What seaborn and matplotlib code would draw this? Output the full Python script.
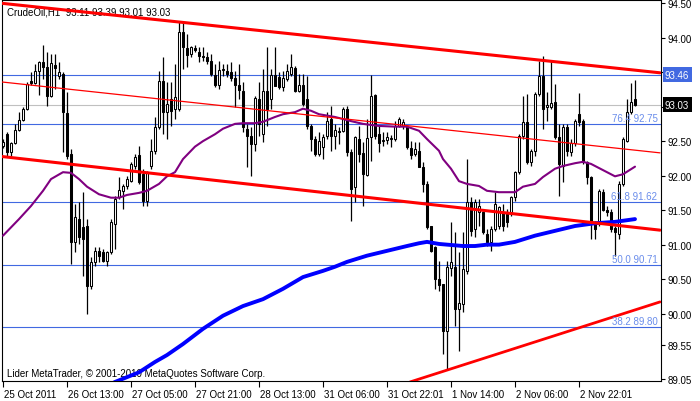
import matplotlib
matplotlib.use("Agg")
import matplotlib.pyplot as plt
import matplotlib.transforms as mtransforms
import numpy as np
import pandas as pd
import seaborn as sns

# CrudeOil H1 candles
opens = [92.43, 92.60, 92.34, 92.47, 92.66, 92.81, 92.97, 93.37, 93.34, 93.52,
         93.65, 93.57, 93.15, 93.60, 93.44, 93.47, 92.91, 92.31, 91.04, 91.37,
         91.26, 91.27, 90.40, 90.75, 90.91, 90.89, 90.76, 90.89, 91.30, 91.69,
         91.78, 91.85, 91.92, 92.14, 92.30, 92.02, 91.63, 92.14, 92.36, 92.70,
         93.37, 92.92, 93.11, 92.97, 92.97, 94.08, 93.85, 93.76, 93.85, 93.79,
         93.73, 93.72, 93.66, 93.46, 93.31, 93.53, 93.52, 93.50, 93.42, 93.31,
         93.23, 92.68, 92.57, 92.46, 93.11, 92.60, 93.23, 93.11, 93.46, 93.43,
         93.28, 93.40, 93.47, 93.56, 93.23, 93.31, 93.11, 92.72, 92.53, 92.31,
         92.42, 92.57, 92.82, 92.57, 92.65, 92.65, 92.97, 92.34, 91.84, 92.53,
         92.33, 92.01, 92.56, 93.17, 92.60, 92.50, 92.52, 92.53, 92.53, 92.72,
         92.72, 92.70, 92.40, 92.31, 92.36, 92.12, 91.88, 91.27, 90.97, 90.50,
         90.43, 89.75, 90.66, 90.68, 90.07, 90.14, 90.62, 91.62, 91.23, 91.47,
         91.47, 91.15, 91.04, 91.23, 91.27, 91.47, 91.46, 91.47, 91.69, 92.05,
         92.57, 92.78, 92.20, 92.36, 93.18, 93.44, 92.99, 92.99, 93.07, 92.56,
         92.14, 92.70, 92.34, 92.47, 92.89, 92.79, 92.20, 91.98, 91.33, 91.33,
         91.76, 91.50, 91.47, 91.24, 91.15, 91.88, 92.50, 92.92, 93.11]
highs = [92.53, 92.63, 92.49, 92.75, 92.92, 92.99, 93.36, 93.50, 93.62, 93.66,
         93.89, 93.79, 93.76, 93.76, 93.65, 93.50, 93.21, 92.39, 91.59, 91.62,
         91.76, 91.37, 90.82, 90.97, 90.97, 90.94, 90.91, 91.37, 91.70, 91.98,
         91.88, 91.99, 92.20, 92.31, 92.43, 92.10, 92.07, 92.53, 92.85, 93.52,
         93.72, 93.36, 93.36, 93.62, 94.23, 94.23, 94.05, 93.88, 93.89, 93.86,
         93.86, 93.79, 93.76, 93.62, 93.66, 93.62, 93.62, 93.65, 93.52, 93.62,
         93.36, 92.75, 92.70, 93.15, 93.36, 93.55, 93.86, 93.55, 93.86, 93.50,
         93.52, 93.62, 93.76, 93.59, 93.47, 93.47, 93.44, 92.75, 92.57, 92.63,
         92.60, 92.92, 93.01, 92.75, 92.70, 92.99, 93.01, 92.39, 92.57, 92.72,
         92.49, 92.82, 93.46, 93.18, 92.72, 92.63, 92.63, 92.59, 92.79, 92.85,
         92.82, 92.72, 92.50, 92.49, 92.49, 92.20, 91.92, 91.27, 90.98, 90.76,
         90.43, 90.76, 91.33, 91.18, 90.89, 91.18, 92.24, 91.69, 91.66, 91.66,
         91.49, 91.23, 91.27, 91.76, 91.56, 91.59, 91.52, 91.70, 92.07, 92.60,
         93.15, 93.18, 92.39, 93.21, 93.66, 93.73, 93.21, 93.66, 93.33, 92.75,
         92.75, 92.75, 92.53, 92.82, 93.20, 92.82, 92.21, 91.99, 91.34, 91.81,
         91.81, 91.56, 91.52, 91.27, 91.92, 92.56, 93.11, 93.34, 93.39]
lows = [92.40, 92.28, 92.28, 92.46, 92.65, 92.79, 92.95, 93.31, 93.33, 93.17,
        93.40, 93.01, 93.14, 93.26, 93.40, 92.34, 92.24, 90.72, 90.89, 91.01,
        90.55, 89.99, 90.36, 90.69, 90.75, 90.75, 90.69, 90.86, 90.94, 91.66,
        91.52, 91.81, 91.91, 92.10, 91.88, 91.56, 91.56, 92.10, 92.31, 92.68,
        92.60, 92.53, 92.72, 92.82, 92.94, 93.55, 93.57, 93.72, 93.79, 93.65,
        93.66, 93.62, 93.44, 93.28, 93.26, 93.44, 93.43, 93.37, 92.99, 93.11,
        92.63, 92.12, 91.99, 92.36, 92.57, 92.49, 92.72, 92.97, 93.30, 93.26,
        93.23, 93.37, 93.44, 93.21, 93.21, 93.01, 92.68, 92.36, 92.28, 92.28,
        92.24, 92.53, 92.36, 92.39, 92.46, 92.63, 92.28, 91.34, 91.62, 92.20,
        91.56, 91.99, 92.21, 92.53, 92.34, 92.43, 92.46, 92.42, 92.50, 92.70,
        92.68, 92.39, 92.24, 92.28, 92.12, 91.76, 91.23, 90.89, 90.36, 90.33,
        89.42, 89.20, 90.55, 89.82, 89.46, 90.02, 90.57, 91.13, 91.11, 91.27,
        91.15, 90.98, 90.91, 91.20, 91.23, 91.20, 91.26, 91.42, 91.63, 92.02,
        92.53, 92.17, 92.14, 92.28, 93.15, 92.68, 92.79, 92.97, 92.53, 91.70,
        91.91, 92.28, 92.28, 92.43, 92.72, 92.17, 91.88, 91.08, 91.08, 91.27,
        91.49, 91.42, 91.18, 90.84, 91.08, 91.85, 92.49, 92.89, 93.01]
closes = [92.49, 92.34, 92.47, 92.66, 92.81, 92.97, 93.33, 93.34, 93.52, 93.65,
          93.57, 93.15, 93.63, 93.56, 93.50, 92.92, 92.28, 91.04, 91.40, 91.11,
          91.08, 90.40, 90.75, 90.91, 90.84, 90.76, 90.89, 91.33, 91.66, 91.79,
          91.85, 91.95, 92.17, 92.27, 91.91, 91.63, 92.05, 92.36, 92.70, 93.37,
          92.92, 93.04, 92.94, 93.14, 94.08, 93.86, 93.75, 93.86, 93.82, 93.73,
          93.72, 93.66, 93.47, 93.31, 93.53, 93.55, 93.47, 93.42, 93.31, 93.24,
          92.70, 92.57, 92.46, 93.12, 92.75, 93.23, 92.97, 93.46, 93.30, 93.28,
          93.42, 93.52, 93.57, 93.23, 93.31, 93.04, 92.72, 92.53, 92.31, 92.50,
          92.56, 92.79, 92.57, 92.66, 92.63, 92.97, 92.34, 91.81, 92.56, 92.31,
          92.02, 92.55, 93.15, 92.57, 92.47, 92.52, 92.56, 92.55, 92.72, 92.82,
          92.78, 92.42, 92.30, 92.39, 92.12, 91.88, 91.26, 90.91, 90.50, 90.42,
          89.75, 90.68, 90.75, 90.07, 90.15, 90.65, 91.62, 91.20, 91.62, 91.56,
          91.18, 91.04, 91.23, 91.59, 91.55, 91.27, 91.33, 91.69, 92.05, 92.57,
          92.78, 92.20, 92.36, 93.18, 93.44, 92.97, 93.02, 93.05, 92.56, 92.17,
          92.70, 92.36, 92.47, 92.79, 92.78, 92.20, 91.98, 91.33, 91.23, 91.78,
          91.50, 91.47, 91.23, 91.18, 91.88, 92.53, 92.92, 93.07, 93.03]

# moving averages (bar index, value)
ma_fast_idx = [0, 4, 7, 10, 12, 15, 17, 19, 21, 24, 27, 29, 31, 34, 36, 39, 41,
               43, 45, 48, 50, 53, 55, 58, 60, 63, 65, 68, 70, 73, 75, 77, 79,
               83, 87, 90, 94, 98, 101, 104, 106, 109, 110, 112, 114, 116, 119,
               121, 124, 128, 130, 133, 135, 138, 140, 143, 145, 147, 149, 151,
               153, 155, 158]
ma_fast = [91.13, 91.37, 91.56, 91.78, 91.95, 92.05, 92.04, 91.95, 91.84, 91.73,
           91.68, 91.68, 91.72, 91.75, 91.78, 91.88, 91.99, 92.05, 92.24, 92.42,
           92.50, 92.60, 92.68, 92.75, 92.76, 92.76, 92.78, 92.85, 92.89, 92.92,
           92.97, 92.94, 92.89, 92.85, 92.79, 92.75, 92.72, 92.71, 92.71, 92.65,
           92.53, 92.36, 92.24, 92.10, 91.92, 91.88, 91.85, 91.78, 91.76, 91.76,
           91.84, 91.88, 91.98, 92.10, 92.14, 92.18, 92.20, 92.17, 92.11, 92.05,
           91.99, 92.02, 92.13]
ma_slow_idx = [26, 28, 34, 38, 41, 45, 50, 55, 60, 65, 70, 75, 80, 83, 86, 91,
               96, 101, 104, 106, 109, 111, 115, 118, 121, 124, 128, 133, 138,
               143, 148, 153, 158]
ma_slow = [88.95, 89.01, 89.15, 89.30, 89.40, 89.56, 89.78, 89.97, 90.11, 90.21,
           90.36, 90.53, 90.62, 90.68, 90.75, 90.84, 90.91, 90.98, 91.02, 91.04,
           91.01, 91.00, 90.98, 90.98, 91.00, 91.00, 91.04, 91.13, 91.20, 91.27,
           91.31, 91.33, 91.37]

# trend lines: (bar index, price) end points
channel_x = [-0.75, 164.25]
channel_top = [94.50, 93.49]
channel_mid = [93.36, 92.33]
channel_low = [92.28, 91.21]
support_x = [101.75, 164.25]
support = [89.01, 90.17]

fib_levels = [93.46, 92.75, 91.62, 90.71, 89.80]
fib_labels = ["", "76.4 92.75", "61.8 91.62", "50.0 90.71", "38.2 89.80"]
bid = 93.03

price_ticks = [94.50, 94.00, 93.50, 93.00, 92.50, 92.00, 91.50, 91.00, 90.50,
               90.00, 89.55, 89.05]
price_labels = ["94.50", "94.00", "", "", "92.50", "92.00", "91.50", "91.00",
                "90.50", "90.00", "89.55", "89.05"]
time_ticks = [0, 16, 32, 48, 64, 80, 96, 112, 128, 144]
time_labels = ["25 Oct 2011", "26 Oct 13:00", "27 Oct 05:00", "27 Oct 21:00",
               "28 Oct 13:00", "31 Oct 06:00", "31 Oct 22:01", "1 Nov 14:00",
               "2 Nov 06:00", "2 Nov 22:01"]

sns.set_style("white")
plt.rcParams["font.family"] = ["Liberation Sans", "DejaVu Sans"]

df = pd.DataFrame({"open": opens, "high": highs, "low": lows, "close": closes})
df["bar"] = np.arange(len(df))
df["bottom"] = df[["open", "close"]].min(axis=1)
df["height"] = (df["close"] - df["open"]).abs().clip(lower=0.004)
df["fill"] = np.where(df["close"] >= df["open"], "white", "black")

fig = plt.figure(figsize=(7, 4.02), dpi=100)
ax = fig.add_axes([2 / 700, 20 / 402, 659 / 700, 381 / 402])

# horizontal levels
for lv in fib_levels:
    ax.axhline(lv, color="#4169E1", lw=0.8, zorder=1)
ax.axhline(bid, color="#C0C0C0", lw=0.8, zorder=1)

# candles
ax.vlines(df["bar"], df["low"], df["high"], color="black", lw=0.9, zorder=2)
ax.bar(df["bar"], df["height"], bottom=df["bottom"], width=0.55,
       color=df["fill"], edgecolor="black", linewidth=0.75, zorder=3)

# indicators
sns.lineplot(x=ma_slow_idx, y=ma_slow, color="#0000FF", lw=2.8, ax=ax,
             estimator=None, sort=False, zorder=4)
sns.lineplot(x=ma_fast_idx, y=ma_fast, color="#800080", lw=1.5, ax=ax,
             estimator=None, sort=False, zorder=4)

# channel
ax.plot(channel_x, channel_top, color="#FF0000", lw=2.2, zorder=5)
ax.plot(channel_x, channel_mid, color="#FF0000", lw=0.9, zorder=5)
ax.plot(channel_x, channel_low, color="#FF0000", lw=2.2, zorder=5)
ax.plot(support_x, support, color="#FF0000", lw=2.0, zorder=5)

for lv, lab in zip(fib_levels, fib_labels):
    if lab:
        ax.text(163.6, lv + 0.015, lab, ha="right", va="bottom", fontsize=7,
                color="#6A8DEB", zorder=6)

ax.set_xlim(-0.25, 164.5)
ax.set_ylim(89.024, 94.545)

# price axis on the right
ax.yaxis.tick_right()
ax.set_yticks(price_ticks)
ax.set_yticklabels(price_labels)
ax.tick_params(axis="y", direction="out", length=3, width=0.8, pad=2,
               labelsize=7, colors="black", right=True, left=False)

ax.set_xticks(time_ticks)
ax.set_xticklabels(time_labels)
ax.tick_params(axis="x", direction="out", length=4, width=0.8, pad=2,
               labelsize=7, colors="black", bottom=True)
shift = mtransforms.ScaledTranslation(1 / 100, 0, fig.dpi_scale_trans)
for lab in ax.get_xticklabels():
    lab.set_horizontalalignment("left")
    lab.set_transform(lab.get_transform() + shift)

for sp in ax.spines.values():
    sp.set_visible(True)
    sp.set_color("black")
    sp.set_linewidth(0.8)

# value boxes on the price scale
trans = mtransforms.blended_transform_factory(ax.transAxes, ax.transData)
ax.text(1.006, 93.46, "93.46", transform=trans, ha="left", va="center",
        fontsize=7, color="white", clip_on=False,
        bbox=dict(boxstyle="square,pad=0.25", fc="#4169E1", ec="none"))
ax.text(1.006, bid, "93.03", transform=trans, ha="left", va="center",
        fontsize=7, color="white", clip_on=False,
        bbox=dict(boxstyle="square,pad=0.25", fc="black", ec="none"))

ax.text(0.008, 0.982, "CrudeOil,H1  93.11 93.39 93.01 93.03",
        transform=ax.transAxes, ha="left", va="top", fontsize=7,
        color="black", zorder=1)
ax.text(0.008, 0.008, "Lider MetaTrader, \u00a9 2001-2010 MetaQuotes Software Corp.",
        transform=ax.transAxes, ha="left", va="bottom", fontsize=7,
        color="black", zorder=1)

fig.savefig("out.png", dpi=100)
